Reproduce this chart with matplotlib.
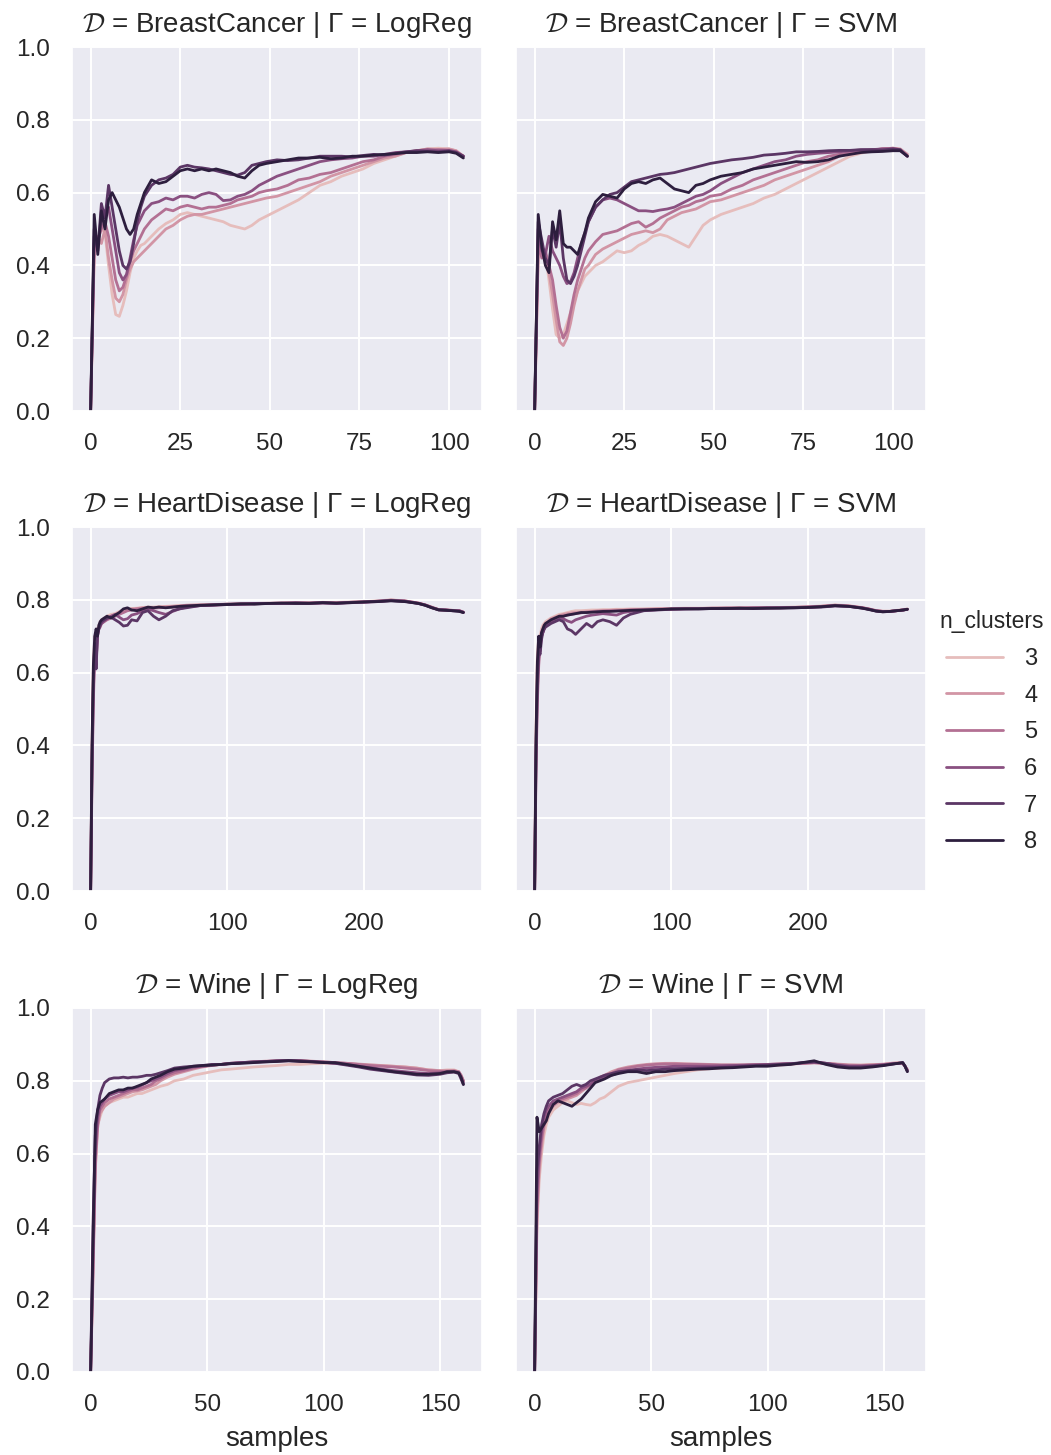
import matplotlib
matplotlib.use("Agg")
import matplotlib.pyplot as plt
from matplotlib.lines import Line2D
import seaborn as sns

sns.set_theme(style="darkgrid")
plt.rcParams["font.family"] = ["Liberation Sans", "DejaVu Sans"]
plt.rcParams["mathtext.fontset"] = "cm"

datasets = ["BreastCancer", "HeartDisease", "Wine"]
classifiers = ["LogReg", "SVM"]
n_clusters = [3, 4, 5, 6, 7, 8]
hue_norm = (2.5, 8)
y_ticks = [0.0, 0.2, 0.4, 0.6, 0.8, 1.0]
bc_ticks = [0, 25, 50, 75, 100]
hd_ticks = [0, 100, 200]
wine_ticks = [0, 50, 100, 150]

# ---------------- BreastCancer ----------------
bc_samples = [0, 1, 2, 3, 4, 5, 6, 7, 8, 9, 10, 11, 12, 13, 14, 15,
              17, 19, 21, 23, 25, 27, 29, 31, 33, 35, 37, 39, 41, 43, 45, 47, 49,
              52, 55, 58, 61, 64, 67, 70, 73, 76, 79, 82, 85, 88, 91, 94, 97, 100,
              102, 104]

bc_lr_3 = [0.00, 0.42, 0.47, 0.50, 0.49, 0.40, 0.32, 0.265, 0.26, 0.29, 0.33, 0.38, 0.42, 0.44, 0.455, 0.46,
           0.48, 0.50, 0.515, 0.525, 0.54, 0.545, 0.54, 0.535, 0.53, 0.525, 0.52, 0.51, 0.505, 0.50, 0.51, 0.525, 0.535,
           0.55, 0.565, 0.58, 0.60, 0.62, 0.63, 0.645, 0.655, 0.665, 0.68, 0.69, 0.70, 0.71, 0.715, 0.72, 0.722, 0.72,
           0.715, 0.70]
bc_lr_4 = [0.00, 0.44, 0.48, 0.46, 0.50, 0.42, 0.36, 0.31, 0.30, 0.32, 0.36, 0.39, 0.41, 0.42, 0.43, 0.44,
           0.46, 0.48, 0.50, 0.51, 0.525, 0.535, 0.54, 0.54, 0.545, 0.55, 0.555, 0.56, 0.565, 0.57, 0.575, 0.58, 0.585,
           0.59, 0.60, 0.61, 0.62, 0.63, 0.645, 0.655, 0.665, 0.675, 0.685, 0.695, 0.70, 0.71, 0.715, 0.72, 0.718, 0.72,
           0.715, 0.70]
bc_lr_5 = [0.00, 0.46, 0.47, 0.50, 0.52, 0.48, 0.42, 0.36, 0.33, 0.34, 0.37, 0.41, 0.44, 0.46, 0.48, 0.50,
           0.525, 0.54, 0.555, 0.55, 0.56, 0.565, 0.56, 0.555, 0.56, 0.56, 0.565, 0.57, 0.58, 0.585, 0.59, 0.60, 0.605,
           0.61, 0.62, 0.635, 0.64, 0.65, 0.655, 0.665, 0.675, 0.685, 0.69, 0.70, 0.705, 0.71, 0.713, 0.716, 0.718, 0.716,
           0.712, 0.70]
bc_lr_6 = [0.00, 0.48, 0.46, 0.52, 0.55, 0.56, 0.50, 0.44, 0.38, 0.36, 0.375, 0.42, 0.47, 0.51, 0.53, 0.55,
           0.57, 0.575, 0.585, 0.58, 0.59, 0.59, 0.585, 0.595, 0.60, 0.595, 0.578, 0.58, 0.59, 0.595, 0.605, 0.62, 0.63,
           0.645, 0.655, 0.665, 0.675, 0.685, 0.69, 0.693, 0.695, 0.70, 0.70, 0.705, 0.71, 0.712, 0.715, 0.718, 0.715, 0.716,
           0.712, 0.70]
bc_lr_7 = [0.00, 0.50, 0.44, 0.57, 0.53, 0.62, 0.56, 0.50, 0.44, 0.40, 0.39, 0.41, 0.46, 0.52, 0.56, 0.59,
           0.62, 0.635, 0.64, 0.65, 0.67, 0.675, 0.67, 0.668, 0.665, 0.66, 0.655, 0.65, 0.648, 0.655, 0.675, 0.68, 0.685,
           0.69, 0.688, 0.69, 0.695, 0.70, 0.70, 0.70, 0.698, 0.702, 0.705, 0.703, 0.708, 0.712, 0.715, 0.713, 0.712, 0.714,
           0.71, 0.70]
bc_lr_8 = [0.00, 0.54, 0.43, 0.55, 0.50, 0.58, 0.60, 0.58, 0.56, 0.53, 0.50, 0.485, 0.50, 0.54, 0.57, 0.60,
           0.635, 0.625, 0.63, 0.645, 0.66, 0.665, 0.66, 0.665, 0.66, 0.665, 0.66, 0.655, 0.645, 0.64, 0.66, 0.675, 0.68,
           0.685, 0.69, 0.695, 0.695, 0.697, 0.693, 0.695, 0.70, 0.70, 0.703, 0.705, 0.707, 0.71, 0.71, 0.712, 0.71, 0.712,
           0.708, 0.695]

bc_svm_3 = [0.00, 0.42, 0.44, 0.43, 0.36, 0.28, 0.21, 0.20, 0.21, 0.24, 0.27, 0.30, 0.33, 0.35, 0.37, 0.38,
            0.40, 0.41, 0.425, 0.44, 0.435, 0.44, 0.455, 0.465, 0.48, 0.485, 0.48, 0.47, 0.46, 0.45, 0.48, 0.51, 0.525,
            0.54, 0.55, 0.56, 0.57, 0.585, 0.595, 0.61, 0.625, 0.64, 0.655, 0.67, 0.685, 0.70, 0.708, 0.715, 0.72, 0.72,
            0.718, 0.705]
bc_svm_4 = [0.00, 0.44, 0.45, 0.41, 0.38, 0.32, 0.25, 0.19, 0.18, 0.20, 0.24, 0.29, 0.33, 0.36, 0.39, 0.40,
            0.43, 0.445, 0.455, 0.465, 0.475, 0.485, 0.49, 0.495, 0.49, 0.50, 0.525, 0.535, 0.545, 0.55, 0.555, 0.565, 0.575,
            0.58, 0.59, 0.60, 0.61, 0.62, 0.635, 0.645, 0.655, 0.665, 0.675, 0.685, 0.70, 0.708, 0.712, 0.716, 0.72, 0.722,
            0.72, 0.705]
bc_svm_5 = [0.00, 0.46, 0.42, 0.44, 0.40, 0.36, 0.29, 0.23, 0.20, 0.22, 0.27, 0.32, 0.36, 0.39, 0.42, 0.44,
            0.465, 0.485, 0.49, 0.495, 0.505, 0.515, 0.52, 0.505, 0.515, 0.53, 0.54, 0.55, 0.56, 0.565, 0.575, 0.58, 0.59,
            0.595, 0.61, 0.62, 0.635, 0.645, 0.655, 0.665, 0.675, 0.685, 0.69, 0.70, 0.705, 0.71, 0.713, 0.717, 0.72, 0.722,
            0.718, 0.70]
bc_svm_6 = [0.00, 0.50, 0.44, 0.43, 0.48, 0.44, 0.42, 0.40, 0.37, 0.35, 0.355, 0.38, 0.42, 0.46, 0.49, 0.52,
            0.56, 0.58, 0.585, 0.58, 0.57, 0.56, 0.55, 0.55, 0.548, 0.552, 0.555, 0.56, 0.57, 0.58, 0.59, 0.595, 0.605,
            0.625, 0.64, 0.655, 0.665, 0.675, 0.685, 0.69, 0.70, 0.705, 0.708, 0.71, 0.712, 0.715, 0.717, 0.718, 0.72, 0.72,
            0.716, 0.70]
bc_svm_7 = [0.00, 0.52, 0.47, 0.42, 0.40, 0.50, 0.45, 0.52, 0.42, 0.36, 0.35, 0.37, 0.40, 0.44, 0.48, 0.52,
            0.56, 0.58, 0.595, 0.60, 0.615, 0.63, 0.635, 0.64, 0.645, 0.65, 0.652, 0.655, 0.66, 0.665, 0.67, 0.675, 0.68,
            0.685, 0.69, 0.693, 0.697, 0.703, 0.705, 0.708, 0.712, 0.712, 0.713, 0.715, 0.716, 0.716, 0.718, 0.718, 0.717, 0.72,
            0.718, 0.70]
bc_svm_8 = [0.00, 0.54, 0.45, 0.40, 0.38, 0.52, 0.47, 0.55, 0.46, 0.45, 0.45, 0.44, 0.43, 0.46, 0.49, 0.53,
            0.575, 0.595, 0.59, 0.585, 0.61, 0.625, 0.63, 0.625, 0.635, 0.64, 0.625, 0.61, 0.605, 0.60, 0.62, 0.625, 0.635,
            0.645, 0.65, 0.655, 0.665, 0.67, 0.675, 0.68, 0.685, 0.683, 0.685, 0.69, 0.70, 0.705, 0.71, 0.712, 0.713, 0.715,
            0.715, 0.70]

# ---------------- HeartDisease ----------------
hd_samples = [0, 1, 2, 3, 4, 5, 6, 7, 8,
              10, 12, 15, 18, 21, 24, 27, 30,
              34, 38, 42, 46, 50, 55, 60, 65, 70,
              80, 90, 100, 110, 120, 130, 140, 150, 160, 170, 180, 190, 200, 210, 220, 230, 240,
              245, 250, 255, 260, 265, 270, 273]

hd_lr_3 = [0.00, 0.38, 0.63, 0.70, 0.68, 0.72, 0.73, 0.74, 0.745,
           0.75, 0.755, 0.76, 0.762, 0.768, 0.772, 0.775, 0.776,
           0.777, 0.779, 0.78, 0.78, 0.781, 0.782, 0.783, 0.784, 0.785,
           0.786, 0.787, 0.788, 0.789, 0.79, 0.791, 0.791, 0.792, 0.792, 0.793, 0.793, 0.794, 0.795, 0.797, 0.80, 0.797, 0.791,
           0.786, 0.78, 0.773, 0.772, 0.771, 0.77, 0.766]
hd_lr_4 = [0.00, 0.38, 0.60, 0.68, 0.66, 0.71, 0.72, 0.73, 0.74,
           0.745, 0.75, 0.755, 0.76, 0.765, 0.768, 0.772, 0.775,
           0.776, 0.778, 0.779, 0.778, 0.78, 0.781, 0.782, 0.783, 0.785,
           0.786, 0.787, 0.788, 0.789, 0.79, 0.79, 0.791, 0.792, 0.792, 0.793, 0.792, 0.793, 0.795, 0.796, 0.799, 0.797, 0.791,
           0.786, 0.779, 0.773, 0.772, 0.771, 0.77, 0.766]
hd_lr_5 = [0.00, 0.30, 0.52, 0.65, 0.63, 0.70, 0.72, 0.725, 0.735,
           0.74, 0.745, 0.75, 0.755, 0.76, 0.765, 0.77, 0.772,
           0.775, 0.776, 0.778, 0.777, 0.778, 0.779, 0.78, 0.782, 0.784,
           0.785, 0.786, 0.787, 0.788, 0.789, 0.79, 0.791, 0.791, 0.79, 0.792, 0.792, 0.793, 0.794, 0.796, 0.799, 0.797, 0.791,
           0.786, 0.779, 0.773, 0.772, 0.771, 0.77, 0.766]
hd_lr_6 = [0.00, 0.33, 0.55, 0.66, 0.62, 0.71, 0.72, 0.73, 0.735,
           0.742, 0.748, 0.755, 0.76, 0.752, 0.745, 0.748, 0.758,
           0.762, 0.77, 0.775, 0.77, 0.765, 0.76, 0.768, 0.775, 0.78,
           0.784, 0.785, 0.787, 0.788, 0.789, 0.79, 0.79, 0.79, 0.79, 0.791, 0.79, 0.792, 0.793, 0.795, 0.798, 0.796, 0.79,
           0.786, 0.779, 0.772, 0.772, 0.77, 0.77, 0.766]
hd_lr_7 = [0.00, 0.35, 0.58, 0.68, 0.61, 0.70, 0.72, 0.73, 0.74,
           0.745, 0.75, 0.752, 0.745, 0.738, 0.728, 0.73, 0.745,
           0.742, 0.765, 0.77, 0.755, 0.745, 0.755, 0.77, 0.775, 0.778,
           0.784, 0.786, 0.788, 0.788, 0.79, 0.79, 0.79, 0.792, 0.791, 0.792, 0.79, 0.793, 0.794, 0.796, 0.798, 0.796, 0.79,
           0.785, 0.778, 0.773, 0.772, 0.77, 0.769, 0.765]
hd_lr_8 = [0.00, 0.40, 0.62, 0.70, 0.72, 0.70, 0.73, 0.74, 0.745,
           0.75, 0.755, 0.75, 0.758, 0.765, 0.775, 0.778, 0.772,
           0.77, 0.775, 0.78, 0.778, 0.78, 0.778, 0.78, 0.782, 0.783,
           0.785, 0.786, 0.787, 0.789, 0.788, 0.79, 0.791, 0.79, 0.79, 0.792, 0.791, 0.792, 0.794, 0.795, 0.797, 0.795, 0.79,
           0.785, 0.778, 0.772, 0.771, 0.77, 0.768, 0.765]

hd_svm_3 = [0.00, 0.45, 0.65, 0.70, 0.70, 0.72, 0.73, 0.735, 0.74,
            0.745, 0.75, 0.755, 0.76, 0.762, 0.765, 0.768, 0.77,
            0.77, 0.771, 0.772, 0.772, 0.773, 0.773, 0.774, 0.774, 0.775,
            0.775, 0.776, 0.776, 0.777, 0.777, 0.777, 0.778, 0.778, 0.778, 0.779, 0.779, 0.78, 0.781, 0.783, 0.786, 0.784, 0.779,
            0.775, 0.771, 0.769, 0.769, 0.771, 0.773, 0.775]
hd_svm_4 = [0.00, 0.40, 0.62, 0.68, 0.69, 0.71, 0.72, 0.73, 0.735,
            0.74, 0.748, 0.752, 0.756, 0.76, 0.762, 0.764, 0.765,
            0.766, 0.767, 0.768, 0.77, 0.77, 0.771, 0.772, 0.772, 0.773,
            0.774, 0.775, 0.775, 0.776, 0.776, 0.777, 0.777, 0.778, 0.778, 0.778, 0.779, 0.779, 0.78, 0.782, 0.785, 0.783, 0.778,
            0.775, 0.77, 0.768, 0.768, 0.77, 0.772, 0.774]
hd_svm_5 = [0.00, 0.33, 0.52, 0.62, 0.67, 0.70, 0.71, 0.72, 0.73,
            0.735, 0.742, 0.748, 0.752, 0.755, 0.758, 0.76, 0.762,
            0.764, 0.766, 0.767, 0.768, 0.769, 0.77, 0.77, 0.771, 0.772,
            0.773, 0.774, 0.775, 0.776, 0.776, 0.777, 0.777, 0.777, 0.778, 0.778, 0.778, 0.779, 0.78, 0.782, 0.785, 0.783, 0.778,
            0.774, 0.77, 0.768, 0.768, 0.77, 0.772, 0.774]
hd_svm_6 = [0.00, 0.36, 0.55, 0.64, 0.66, 0.70, 0.71, 0.72, 0.73,
            0.735, 0.74, 0.745, 0.75, 0.748, 0.742, 0.738, 0.745,
            0.75, 0.755, 0.758, 0.76, 0.762, 0.76, 0.758, 0.765, 0.768,
            0.771, 0.773, 0.774, 0.775, 0.776, 0.776, 0.777, 0.777, 0.777, 0.778, 0.778, 0.779, 0.78, 0.781, 0.784, 0.782, 0.778,
            0.774, 0.77, 0.768, 0.768, 0.77, 0.772, 0.774]
hd_svm_7 = [0.00, 0.38, 0.58, 0.66, 0.65, 0.69, 0.71, 0.72, 0.725,
            0.73, 0.735, 0.74, 0.745, 0.74, 0.72, 0.715, 0.705,
            0.72, 0.735, 0.725, 0.74, 0.745, 0.74, 0.73, 0.75, 0.76,
            0.77, 0.772, 0.774, 0.775, 0.775, 0.776, 0.776, 0.776, 0.777, 0.777, 0.778, 0.778, 0.779, 0.78, 0.783, 0.782, 0.777,
            0.774, 0.769, 0.767, 0.768, 0.77, 0.772, 0.774]
hd_svm_8 = [0.00, 0.42, 0.63, 0.70, 0.67, 0.71, 0.72, 0.73, 0.735,
            0.74, 0.745, 0.75, 0.755, 0.755, 0.758, 0.76, 0.762,
            0.765, 0.765, 0.766, 0.767, 0.768, 0.768, 0.769, 0.77, 0.771,
            0.772, 0.773, 0.775, 0.775, 0.775, 0.776, 0.776, 0.777, 0.776, 0.777, 0.777, 0.778, 0.779, 0.781, 0.784, 0.782, 0.777,
            0.773, 0.769, 0.767, 0.768, 0.77, 0.772, 0.774]

# ---------------- Wine ----------------
wine_samples = [0, 1, 2, 3, 4, 5, 6,
                8, 10, 12, 14, 16, 18, 20, 22, 24, 26, 28, 30,
                33, 36, 40, 44, 48, 52, 56, 60,
                65, 70, 75, 80, 85, 90, 95, 100, 105, 110, 115, 120, 125, 130, 135, 140, 145, 150,
                153, 156, 158, 159, 160]

wine_lr_3 = [0.00, 0.30, 0.55, 0.68, 0.70, 0.72, 0.73,
             0.74, 0.745, 0.75, 0.755, 0.755, 0.76, 0.765, 0.765, 0.77, 0.775, 0.78, 0.785,
             0.79, 0.80, 0.805, 0.815, 0.82, 0.825, 0.83, 0.832,
             0.835, 0.838, 0.84, 0.842, 0.845, 0.845, 0.847, 0.848, 0.848, 0.847, 0.845, 0.843, 0.842, 0.84, 0.838, 0.835, 0.83, 0.828,
             0.83, 0.83, 0.825, 0.815, 0.80]
wine_lr_4 = [0.00, 0.25, 0.56, 0.67, 0.71, 0.72, 0.73,
             0.74, 0.75, 0.755, 0.76, 0.765, 0.77, 0.772, 0.775, 0.78, 0.785, 0.79, 0.80,
             0.81, 0.818, 0.825, 0.832, 0.838, 0.842, 0.845, 0.848,
             0.85, 0.852, 0.854, 0.855, 0.856, 0.856, 0.854, 0.852, 0.85, 0.848, 0.846, 0.844, 0.842, 0.84, 0.838, 0.835, 0.83, 0.828,
             0.828, 0.828, 0.825, 0.815, 0.80]
wine_lr_5 = [0.00, 0.28, 0.58, 0.68, 0.72, 0.73, 0.74,
             0.75, 0.755, 0.76, 0.765, 0.77, 0.775, 0.775, 0.78, 0.785, 0.79, 0.80, 0.805,
             0.815, 0.822, 0.828, 0.835, 0.84, 0.843, 0.845, 0.848,
             0.85, 0.852, 0.853, 0.855, 0.856, 0.855, 0.853, 0.852, 0.85, 0.848, 0.845, 0.842, 0.84, 0.838, 0.835, 0.832, 0.828, 0.826,
             0.826, 0.827, 0.825, 0.815, 0.80]
wine_lr_6 = [0.00, 0.30, 0.60, 0.70, 0.73, 0.74, 0.75,
             0.76, 0.765, 0.77, 0.77, 0.775, 0.78, 0.782, 0.788, 0.795, 0.80, 0.805, 0.81,
             0.82, 0.828, 0.833, 0.838, 0.84, 0.843, 0.845, 0.847,
             0.85, 0.851, 0.852, 0.854, 0.855, 0.854, 0.852, 0.85, 0.848, 0.845, 0.84, 0.836, 0.832, 0.828, 0.825, 0.822, 0.82, 0.822,
             0.824, 0.825, 0.822, 0.81, 0.795]
wine_lr_7 = [0.00, 0.40, 0.65, 0.72, 0.76, 0.78, 0.795,
             0.805, 0.808, 0.808, 0.81, 0.808, 0.81, 0.81, 0.812, 0.815, 0.815, 0.818, 0.822,
             0.828, 0.835, 0.838, 0.84, 0.842, 0.845, 0.845, 0.848,
             0.85, 0.852, 0.853, 0.855, 0.856, 0.855, 0.853, 0.851, 0.848, 0.843, 0.838, 0.832, 0.828, 0.824, 0.82, 0.816, 0.815, 0.818,
             0.822, 0.824, 0.82, 0.805, 0.79]
wine_lr_8 = [0.00, 0.35, 0.68, 0.72, 0.74, 0.745, 0.75,
             0.765, 0.77, 0.775, 0.775, 0.78, 0.78, 0.785, 0.79, 0.795, 0.805, 0.81, 0.815,
             0.825, 0.832, 0.835, 0.84, 0.842, 0.843, 0.845, 0.847,
             0.848, 0.85, 0.852, 0.853, 0.855, 0.853, 0.852, 0.85, 0.85, 0.845, 0.84, 0.835, 0.83, 0.825, 0.822, 0.818, 0.818, 0.82,
             0.825, 0.825, 0.822, 0.81, 0.79]

wine_svm_3 = [0.00, 0.40, 0.53, 0.60, 0.65, 0.68, 0.70,
              0.72, 0.73, 0.74, 0.745, 0.74, 0.735, 0.738, 0.735, 0.733, 0.74, 0.75, 0.755,
              0.77, 0.785, 0.795, 0.80, 0.805, 0.81, 0.815, 0.82,
              0.825, 0.83, 0.833, 0.835, 0.838, 0.84, 0.842, 0.842, 0.843, 0.845, 0.848, 0.85, 0.848, 0.845, 0.843, 0.843, 0.845, 0.845,
              0.848, 0.85, 0.848, 0.84, 0.83]
wine_svm_4 = [0.00, 0.42, 0.56, 0.62, 0.67, 0.70, 0.715,
              0.73, 0.74, 0.745, 0.75, 0.755, 0.76, 0.77, 0.78, 0.79, 0.80, 0.81, 0.815,
              0.825, 0.832, 0.838, 0.842, 0.845, 0.847, 0.848, 0.848,
              0.847, 0.846, 0.845, 0.844, 0.844, 0.844, 0.845, 0.845, 0.846, 0.847, 0.848, 0.849, 0.848, 0.846, 0.844, 0.843, 0.844, 0.846,
              0.848, 0.849, 0.848, 0.84, 0.83]
wine_svm_5 = [0.00, 0.45, 0.58, 0.64, 0.68, 0.71, 0.72,
              0.735, 0.745, 0.75, 0.755, 0.76, 0.765, 0.775, 0.78, 0.79, 0.80, 0.808, 0.815,
              0.82, 0.83, 0.835, 0.84, 0.843, 0.845, 0.846, 0.846,
              0.845, 0.845, 0.844, 0.843, 0.843, 0.843, 0.844, 0.845, 0.846, 0.847, 0.848, 0.85, 0.848, 0.845, 0.842, 0.842, 0.843, 0.845,
              0.847, 0.848, 0.848, 0.84, 0.83]
wine_svm_6 = [0.00, 0.50, 0.60, 0.66, 0.70, 0.72, 0.73,
              0.745, 0.75, 0.755, 0.76, 0.765, 0.77, 0.78, 0.785, 0.79, 0.80, 0.805, 0.81,
              0.815, 0.822, 0.828, 0.832, 0.835, 0.837, 0.838, 0.84,
              0.84, 0.84, 0.84, 0.841, 0.842, 0.843, 0.844, 0.845, 0.846, 0.847, 0.849, 0.851, 0.848, 0.843, 0.84, 0.84, 0.842, 0.844,
              0.846, 0.848, 0.849, 0.84, 0.828]
wine_svm_7 = [0.00, 0.55, 0.62, 0.68, 0.71, 0.73, 0.745,
              0.755, 0.76, 0.765, 0.775, 0.785, 0.79, 0.785, 0.79, 0.80, 0.805, 0.81, 0.815,
              0.82, 0.825, 0.828, 0.83, 0.828, 0.83, 0.832, 0.833,
              0.834, 0.835, 0.836, 0.837, 0.838, 0.84, 0.842, 0.843, 0.845, 0.847, 0.85, 0.852, 0.848, 0.842, 0.838, 0.838, 0.84, 0.843,
              0.846, 0.848, 0.85, 0.84, 0.826]
wine_svm_8 = [0.00, 0.70, 0.66, 0.67, 0.68, 0.69, 0.71,
              0.735, 0.745, 0.74, 0.735, 0.73, 0.74, 0.75, 0.765, 0.78, 0.795, 0.80, 0.805,
              0.815, 0.82, 0.825, 0.825, 0.82, 0.825, 0.825, 0.828,
              0.83, 0.832, 0.833, 0.835, 0.836, 0.838, 0.84, 0.84, 0.843, 0.845, 0.85, 0.855, 0.845, 0.838, 0.835, 0.835, 0.838, 0.842,
              0.845, 0.848, 0.85, 0.84, 0.825]

panels = {
    ("BreastCancer", "LogReg"): (bc_samples, [bc_lr_3, bc_lr_4, bc_lr_5, bc_lr_6, bc_lr_7, bc_lr_8]),
    ("BreastCancer", "SVM"): (bc_samples, [bc_svm_3, bc_svm_4, bc_svm_5, bc_svm_6, bc_svm_7, bc_svm_8]),
    ("HeartDisease", "LogReg"): (hd_samples, [hd_lr_3, hd_lr_4, hd_lr_5, hd_lr_6, hd_lr_7, hd_lr_8]),
    ("HeartDisease", "SVM"): (hd_samples, [hd_svm_3, hd_svm_4, hd_svm_5, hd_svm_6, hd_svm_7, hd_svm_8]),
    ("Wine", "LogReg"): (wine_samples, [wine_lr_3, wine_lr_4, wine_lr_5, wine_lr_6, wine_lr_7, wine_lr_8]),
    ("Wine", "SVM"): (wine_samples, [wine_svm_3, wine_svm_4, wine_svm_5, wine_svm_6, wine_svm_7, wine_svm_8]),
}
row_ticks = {"BreastCancer": bc_ticks, "HeartDisease": hd_ticks, "Wine": wine_ticks}

# seaborn's default cubehelix map for a numeric hue
cmap = sns.cubehelix_palette(as_cmap=True)
lo, hi = hue_norm
colors = [cmap((k - lo) / (hi - lo)) for k in n_clusters]

W, H = 1051, 1455
fig = plt.figure(figsize=(W / 100, H / 100), dpi=100)
lefts = [72, 516]
tops = [47, 527, 1008]
aw, ah = 410, 364

for r, ds in enumerate(datasets):
    for c, clf in enumerate(classifiers):
        ax = fig.add_axes([lefts[c] / W, 1 - (tops[r] + ah) / H, aw / W, ah / H])
        xs, curves = panels[(ds, clf)]
        for ys, col in zip(curves, colors):
            ax.plot(xs, ys, color=col, lw=2.0)
        ax.set_ylim(0, 1.0)
        ax.set_yticks(y_ticks)
        ax.set_yticklabels([f"{v:.1f}" for v in y_ticks])
        ax.set_xticks(row_ticks[ds])
        ax.grid(True, color="white", lw=1.4)
        ax.tick_params(axis="both", length=0, labelsize=17.5, colors=".15")
        ax.tick_params(axis="y", pad=16)
        ax.tick_params(axis="x", pad=16)
        if c == 1:
            ax.tick_params(labelleft=False)
        ax.set_title(f"$\\mathcal{{D}}$ = {ds} | Γ = {clf}", fontsize=20, color=".15", pad=11)
        if r == len(datasets) - 1:
            ax.set_xlabel("samples", fontsize=20, color=".15", labelpad=7)

handles = [Line2D([], [], color=col, lw=2.0) for col in colors]
fig.legend(handles, [str(k) for k in n_clusters], title="n_clusters",
           loc="center left", bbox_to_anchor=(0.894, 0.497), frameon=False,
           fontsize=17, title_fontsize=16.5, handlelength=2.4, labelspacing=0.62,
           handletextpad=0.9, borderpad=0.0, borderaxespad=0.0)

fig.savefig("out.png", dpi=100)
